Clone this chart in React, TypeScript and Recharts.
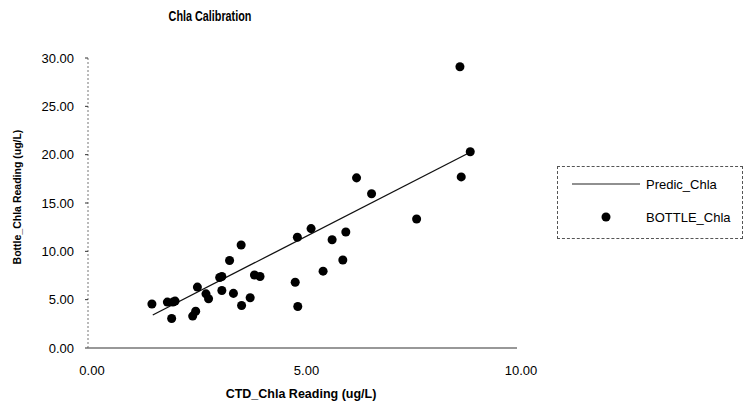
import { Scatter, ScatterChart, XAxis, YAxis } from "recharts";

const ctdReading = [
  1.49, 1.85, 1.98, 2.03, 1.95, 2.55, 2.44, 2.51, 2.75, 2.81, 3.07, 3.12, 3.12, 3.3, 3.39, 3.57, 3.58,
  3.78, 3.88, 4.01, 4.83, 4.89, 4.88, 5.2, 5.69, 5.48, 5.94, 6.01, 6.26, 6.61, 7.66, 8.67, 8.7, 8.91,
];
const bottleChla = [
  4.55, 4.75, 4.75, 4.85, 3.05, 6.3, 3.3, 3.8, 5.6, 5.1, 7.3, 7.4, 5.95, 9.05, 5.65, 10.65, 4.4,
  5.2, 7.55, 7.4, 6.8, 4.3, 11.45, 12.35, 11.2, 7.95, 9.1, 12.0, 17.6, 15.95, 13.35, 29.1, 17.7, 20.3,
];
const predicX = [1.51, 8.83];
const predicY = [3.41, 20.07];
const xTicks = [0, 5, 10];
const yTicks = [0, 5, 10, 15, 20, 25, 30];

const bottle = ctdReading.map((x, i) => ({ x, y: bottleChla[i] }));
const predic = predicX.map((x, i) => ({ x, y: predicY[i] }));

const font = "'Liberation Sans', Arial, Helvetica, sans-serif";

function LegendBox() {
  return (
    <div
      style={{
        position: "absolute",
        left: 557,
        top: 166,
        width: 186,
        height: 73,
        boxSizing: "border-box",
        border: "1px dashed #555",
        fontFamily: font,
        fontSize: 13,
        color: "#000",
      }}
    >
      <svg width={186} height={73} style={{ position: "absolute", left: -1, top: -1 }}>
        <line x1={15} y1={18} x2={83} y2={18} stroke="#222" strokeWidth={1.2} />
        <circle cx={49} cy={51} r={4.5} fill="#000" />
      </svg>
      <span style={{ position: "absolute", left: 88, top: 10 }}>Predic_Chla</span>
      <span style={{ position: "absolute", left: 88, top: 43 }}>BOTTLE_Chla</span>
    </div>
  );
}

export default function App() {
  return (
    <div style={{ position: "relative", width: 752, height: 412, background: "#fff", fontFamily: font }}>
      <style>{"body{margin:0}"}</style>
      <div
        style={{
          position: "absolute",
          left: 210,
          top: 15,
          transform: "translate(-50%, -50%) scaleX(0.72)",
          whiteSpace: "nowrap",
          fontWeight: 700,
          fontSize: 15,
          color: "#000",
        }}
      >
        Chla Calibration
      </div>
      <div
        style={{
          position: "absolute",
          left: 17,
          top: 197,
          transform: "translate(-50%, -50%) rotate(-90deg)",
          whiteSpace: "nowrap",
          fontWeight: 700,
          fontSize: 10.5,
          color: "#000",
        }}
      >
        Bottle_Chla Reading (ug/L)
      </div>
      <div
        style={{
          position: "absolute",
          left: 301,
          top: 394,
          transform: "translate(-50%, -50%)",
          whiteSpace: "nowrap",
          fontWeight: 700,
          fontSize: 12.5,
          color: "#000",
        }}
      >
        CTD_Chla Reading (ug/L)
      </div>
      <LegendBox />
      <div style={{ position: "absolute", left: 0, top: 0 }}>
        <ScatterChart width={752} height={412} margin={{ top: 58, right: 235, bottom: 0, left: 0 }}>
          <XAxis
            type="number"
            dataKey="x"
            domain={[0, 10]}
            ticks={xTicks}
            tickFormatter={(v: number) => v.toFixed(2)}
            tick={{ fontSize: 13, fill: "#000", fontFamily: font, dx: 4 }}
            tickLine={false}
            tickMargin={12}
            axisLine={{ stroke: "#333", strokeWidth: 1.2 }}
            height={64}
          />
          <YAxis
            type="number"
            dataKey="y"
            domain={[0, 30]}
            ticks={yTicks}
            tickFormatter={(v: number) => v.toFixed(2)}
            tick={{ fontSize: 13, fill: "#000", fontFamily: font }}
            tickSize={3}
            tickLine={{ stroke: "#333" }}
            tickMargin={11}
            axisLine={{ stroke: "#777", strokeDasharray: "2 2" }}
            width={88}
          />
          <Scatter
            name="Predic_Chla"
            data={predic}
            line={{ stroke: "#111", strokeWidth: 1.3 }}
            shape={() => <g />}
            isAnimationActive={false}
          />
          <Scatter name="BOTTLE_Chla" data={bottle} fill="#000" shape="circle" isAnimationActive={false} />
        </ScatterChart>
      </div>
    </div>
  );
}
